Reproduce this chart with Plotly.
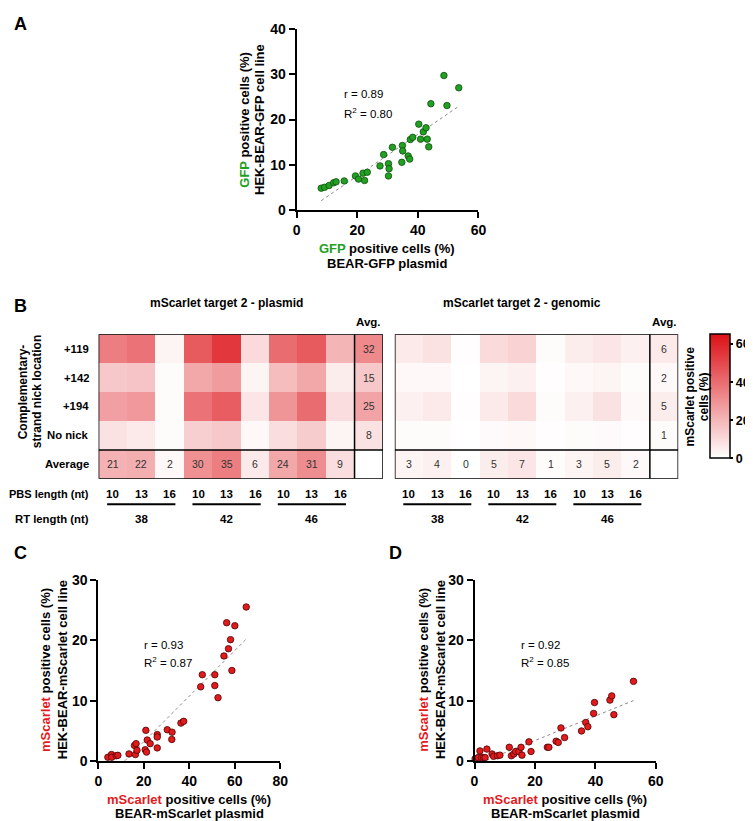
import numpy as np
import plotly.graph_objects as go

W, H = 753, 821
FONT = "Liberation Sans, Arial, Helvetica, sans-serif"
GREEN = "#22a022"
GREEN_EDGE = "#0e4f0e"
RED = "#e31a1c"
RED_EDGE = "#4a0505"

# ---------------- Panel A data ----------------
gfp_plasmid = [8.1, 9.2, 10.7, 12.2, 13.0, 15.7, 19.4, 20.4, 21.9, 22.4, 23.3, 27.5, 28.7,
               30.3, 30.5, 30.3, 31.6, 34.7, 34.9, 35.0, 36.8, 37.3, 37.5, 38.3, 40.3, 40.9,
               41.8, 42.7, 43.1, 43.6, 44.3, 48.6, 49.6, 53.5]
gfp_cellline = [4.9, 5.1, 5.5, 6.1, 6.3, 6.5, 7.6, 6.9, 8.2, 6.6, 8.4, 9.8, 12.3,
                10.3, 9.2, 7.6, 13.9, 10.6, 14.3, 13.1, 12.0, 11.3, 15.6, 16.1, 19.0, 15.7,
                17.3, 18.2, 15.7, 14.0, 23.5, 29.7, 23.1, 27.0]

# ---------------- Panel B data ----------------
nick_rows = ["+119", "+142", "+194", "No nick"]
pbs_lengths = [10, 13, 16, 10, 13, 16, 10, 13, 16]
rt_lengths = [38, 42, 46]

plasmid_values = [
    [35, 38, 3, 45, 54, 10, 40, 45, 20],
    [15, 16, 1, 24, 27, 3, 18, 24, 5],
    [26, 28, 1, 38, 44, 7, 29, 40, 9],
    [8, 6, 1, 13, 15, 2, 9, 14, 3],
]
plasmid_row_avg = [32, 15, 25, 8]
plasmid_col_avg = [21, 22, 2, 30, 35, 6, 24, 31, 9]

genomic_values = [
    [6, 8, 0.5, 10, 12, 1, 5, 7, 4],
    [2, 2, 0, 3, 4, 0.5, 2, 3, 1],
    [4, 6, 0.5, 6, 10, 1, 4, 8, 2],
    [1, 1, 0, 1.5, 2, 0.5, 1, 1.5, 0.5],
]
genomic_row_avg = [6, 2, 5, 1]
genomic_col_avg = [3, 4, 0, 5, 7, 1, 3, 5, 2]

# ---------------- Panel C data ----------------
msc_plasmid_c = [4.2, 5.8, 5.9, 7.9, 8.6, 13.5, 15.9, 16.3, 16.6, 17.0, 20.6, 20.9, 21.2,
                 21.5, 22.8, 25.9, 25.9, 25.9, 30.3, 32.4, 32.3, 36.3, 37.5, 45.0, 45.7,
                 51.2, 51.2, 52.6, 55.2, 56.4, 57.2, 58.1, 58.7, 60.0, 65.0]
msc_cellline_c = [0.65, 1.1, 0.65, 0.9, 0.97, 1.2, 2.6, 1.1, 2.9, 1.8, 1.9, 5.1, 1.5,
                  3.5, 2.9, 4.4, 4.0, 2.2, 5.2, 4.8, 3.6, 6.3, 6.6, 12.3, 14.3,
                  14.3, 12.5, 10.5, 17.4, 22.9, 18.6, 20.1, 15.0, 22.4, 25.5]

# ---------------- Panel D data ----------------
msc_plasmid_d = [0.2, 1.2, 1.8, 2.3, 3.0, 3.5, 4.1, 5.8, 6.3, 7.6, 8.4, 11.5, 12.2, 13.0,
                 13.6, 14.7, 15.4, 15.7, 18.0, 18.7, 24.1, 24.6, 27.0, 27.7, 28.6, 29.8,
                 35.4, 36.8, 37.5, 39.4, 39.7, 44.8, 45.4, 46.1, 52.6]
msc_cellline_d = [0.4, 0.6, 1.7, 0.6, 0.6, 0.6, 2.0, 1.2, 0.8, 0.9, 1.0, 2.3, 0.9, 1.2,
                  1.6, 1.6, 2.3, 1.0, 3.2, 1.6, 2.3, 2.3, 3.3, 3.1, 5.5, 3.9,
                  5.0, 6.4, 5.7, 7.9, 9.7, 10.1, 10.8, 7.7, 13.2]


def px(x):
    return x / W


def py(y):
    return 1 - y / H


fig = go.Figure()


def scatter_panel(xs, ys, color, edge, xa, ya):
    slope, intercept = np.polyfit(xs, ys, 1)
    x0, x1 = min(xs), max(xs)
    fig.add_trace(go.Scatter(
        x=[x0, x1], y=[slope * x0 + intercept, slope * x1 + intercept],
        mode="lines", line=dict(color="#8a8a8a", width=1, dash="dot"),
        xaxis=xa, yaxis=ya, showlegend=False, hoverinfo="skip"))
    fig.add_trace(go.Scatter(
        x=xs, y=ys, mode="markers",
        marker=dict(size=6.5, color=color, line=dict(color=edge, width=0.8)),
        cliponaxis=False, xaxis=xa, yaxis=ya, showlegend=False, hoverinfo="skip"))


scatter_panel(gfp_plasmid, gfp_cellline, GREEN, GREEN_EDGE, "x", "y")
scatter_panel(msc_plasmid_c, msc_cellline_c, RED, RED_EDGE, "x4", "y4")
scatter_panel(msc_plasmid_d, msc_cellline_d, RED, RED_EDGE, "x5", "y5")


def build(values, row_avg, col_avg):
    z = [list(r) + [a] for r, a in zip(values, row_avg)]
    z.append(list(col_avg) + [None])
    return z


for vals, ravg, cavg, xa, ya in [
    (plasmid_values, plasmid_row_avg, plasmid_col_avg, "x2", "y2"),
    (genomic_values, genomic_row_avg, genomic_col_avg, "x3", "y3"),
]:
    fig.add_trace(go.Heatmap(
        z=build(vals, ravg, cavg),
        coloraxis="coloraxis", xaxis=xa, yaxis=ya, hoverinfo="skip"))

tickfont = dict(family=FONT, size=14, color="black", weight="bold")
scat_axis = dict(showline=True, linecolor="black", linewidth=2, ticks="outside",
                 ticklen=6, tickwidth=2, tickcolor="black", showgrid=False,
                 zeroline=False, tickfont=tickfont, fixedrange=True)
hm_axis = dict(visible=False, fixedrange=True)

fig.update_layout(
    width=W, height=H, margin=dict(l=0, r=0, t=0, b=0), autosize=False,
    paper_bgcolor="white", plot_bgcolor="white",
    font=dict(family=FONT, color="black"),
    xaxis=dict(scat_axis, domain=[px(289.3), px(474)], range=[0, 60],
               tickvals=[0, 20, 40, 60], anchor="y"),
    yaxis=dict(scat_axis, domain=[py(198.3), py(13)], range=[0, 40],
               tickvals=[0, 10, 20, 30, 40], anchor="x"),
    xaxis2=dict(hm_axis, domain=[px(88), px(377)], range=[-0.5, 9.5], anchor="y2"),
    yaxis2=dict(hm_axis, domain=[py(472), py(324.5)], range=[4.5, -0.5], anchor="x2"),
    xaxis3=dict(hm_axis, domain=[px(389), px(677)], range=[-0.5, 9.5], anchor="y3"),
    yaxis3=dict(hm_axis, domain=[py(472), py(324.5)], range=[4.5, -0.5], anchor="x3"),
    xaxis4=dict(scat_axis, domain=[px(87.7), px(272.7)], range=[0, 80],
                tickvals=[0, 20, 40, 60, 80], anchor="y4"),
    yaxis4=dict(scat_axis, domain=[py(760), py(575)], range=[0, 30],
                tickvals=[0, 10, 20, 30], anchor="x4"),
    xaxis5=dict(scat_axis, domain=[px(470), px(654.3)], range=[0, 60],
                tickvals=[0, 20, 40, 60], anchor="y5"),
    yaxis5=dict(scat_axis, domain=[py(760), py(575)], range=[0, 30],
                tickvals=[0, 10, 20, 30], anchor="x5"),
    coloraxis=dict(
        cmin=0, cmax=65,
        colorscale=[[0, "#ffffff"], [1, "#dc1016"]],
        colorbar=dict(
            x=px(709), xanchor="left", xpad=0, ypad=0,
            y=py(388), yanchor="middle", len=126 / H, lenmode="fraction",
            thickness=20, thicknessmode="pixels",
            outlinewidth=1.5, outlinecolor="black",
            tickvals=[0, 20, 40, 60], ticks="outside", ticklen=3, tickwidth=1.5,
            tickcolor="black",
            tickfont=dict(family=FONT, size=12.5, color="black", weight="bold"),
        ),
    ),
)


def label(text, x, y, size=12, bold=True, color="black", angle=0,
          xanchor="center", yanchor="middle", xref="paper", yref="paper"):
    fig.add_annotation(
        text=text, showarrow=False, textangle=angle,
        x=px(x) if xref == "paper" else x,
        y=py(y) if yref == "paper" else y,
        xref=xref, yref=yref, xanchor=xanchor, yanchor=yanchor,
        font=dict(family=FONT, size=size, color=color,
                  weight="bold" if bold else "normal"))


def green(t):
    return "<span style='color:%s;font-size:13px'>%s</span>" % (GREEN, t)


def red(t):
    return "<span style='color:%s;font-size:13px'>%s</span>" % (RED, t)


# Panel letters
label("A", 0, 8, size=18, xanchor="left")
label("B", 0, 296, size=18, xanchor="left")
label("C", 0, 548, size=18, xanchor="left")
label("D", 381, 548, size=18, xanchor="left")

# Panel A titles
label(green("GFP") + " positive cells (%)", 381.5, 237, size=13)
label("BEAR-GFP plasmid", 381.5, 252, size=13)
label(green("GFP") + " positive cells (%)", 236, 105.5, size=13, angle=-90)
label("HEK-BEAR-GFP cell line", 251.5, 105.5, size=13, angle=-90)
label("r = 0.89", 335, 80, size=11.5, bold=False, xanchor="left")
label("R<sup>2</sup> = 0.80", 335, 98.7, size=11.5, bold=False, xanchor="left")

# Panel C titles
label(red("mScarlet") + " positive cells (%)", 180, 799, size=13)
label("BEAR-mScarlet plasmid", 180, 813, size=13)
label(red("mScarlet") + " positive cells (%)", 33.5, 667, size=13, angle=-90)
label("HEK-BEAR-mScarlet cell line", 51, 667, size=13, angle=-90)
label("r = 0.93", 132.3, 641.7, size=11.5, bold=False, xanchor="left")
label("R<sup>2</sup> = 0.87", 132.3, 659, size=11.5, bold=False, xanchor="left")

# Panel D titles
label(red("mScarlet") + " positive cells (%)", 562, 799, size=13)
label("BEAR-mScarlet plasmid", 562, 813, size=13)
label(red("mScarlet") + " positive cells (%)", 417.5, 667, size=13, angle=-90)
label("HEK-BEAR-mScarlet cell line", 435, 667, size=13, angle=-90)
label("r = 0.92", 515.7, 641.7, size=11.5, bold=False, xanchor="left")
label("R<sup>2</sup> = 0.85", 515.7, 659, size=11.5, bold=False, xanchor="left")

# Panel B labels
label("Complementary-", 11, 383, size=12, angle=-90)
label("strand nick location", 25, 383, size=12, angle=-90)
for i, name in enumerate(nick_rows + ["Average"]):
    label(name, 80, i, size=11.3, xanchor="right", yref="y2")
label("PBS length (nt)", 80, 487, size=11, xanchor="right")
label("RT length (nt)", 80, 513, size=11.3, xanchor="right")
label("mScarlet positive", 689, 388, size=12, angle=-90)
label("cells (%)", 704, 388, size=12, angle=-90)

CELL_TEXT = dict(family=FONT, size=10.5, color="#333333")
for xa, ya, title, ravg, cavg in [
        ("x2", "y2", "mScarlet target 2 - plasmid", plasmid_row_avg, plasmid_col_avg),
        ("x3", "y3", "mScarlet target 2 - genomic", genomic_row_avg, genomic_col_avg)]:
    label(title, 4, 293, size=12, xref=xa)
    label("Avg.", 9, 312, size=11.5, xref=xa)
    # average values written in their cells
    for i, a in enumerate(ravg):
        fig.add_annotation(text=str(a), x=9, y=i, xref=xa, yref=ya, showarrow=False,
                           font=CELL_TEXT)
    for j, c in enumerate(cavg):
        fig.add_annotation(text=str(c), x=j, y=4, xref=xa, yref=ya, showarrow=False,
                           font=CELL_TEXT)
    for j, p in enumerate(pbs_lengths):
        label(str(p), j, 487, size=11.5, xref=xa)
    for g, rt in enumerate(rt_lengths):
        label(str(rt), g * 3 + 1, 513, size=11.5, xref=xa)
        fig.add_shape(type="line", xref=xa, yref="paper",
                      x0=g * 3 - 0.5 + 0.3, x1=g * 3 + 2.5 - 0.3,
                      y0=py(498), y1=py(498), line=dict(color="black", width=2))
    # borders
    fig.add_shape(type="rect", xref=xa, yref=ya, x0=-0.5, x1=9.5, y0=-0.5, y1=4.5,
                  line=dict(color="black", width=1.5))
    fig.add_shape(type="line", xref=xa, yref=ya, x0=8.5, x1=8.5, y0=-0.5, y1=4.5,
                  line=dict(color="black", width=1.5))
    fig.add_shape(type="line", xref=xa, yref=ya, x0=-0.5, x1=9.5, y0=3.5, y1=3.5,
                  line=dict(color="black", width=1.5))

fig.write_html("out.html")
